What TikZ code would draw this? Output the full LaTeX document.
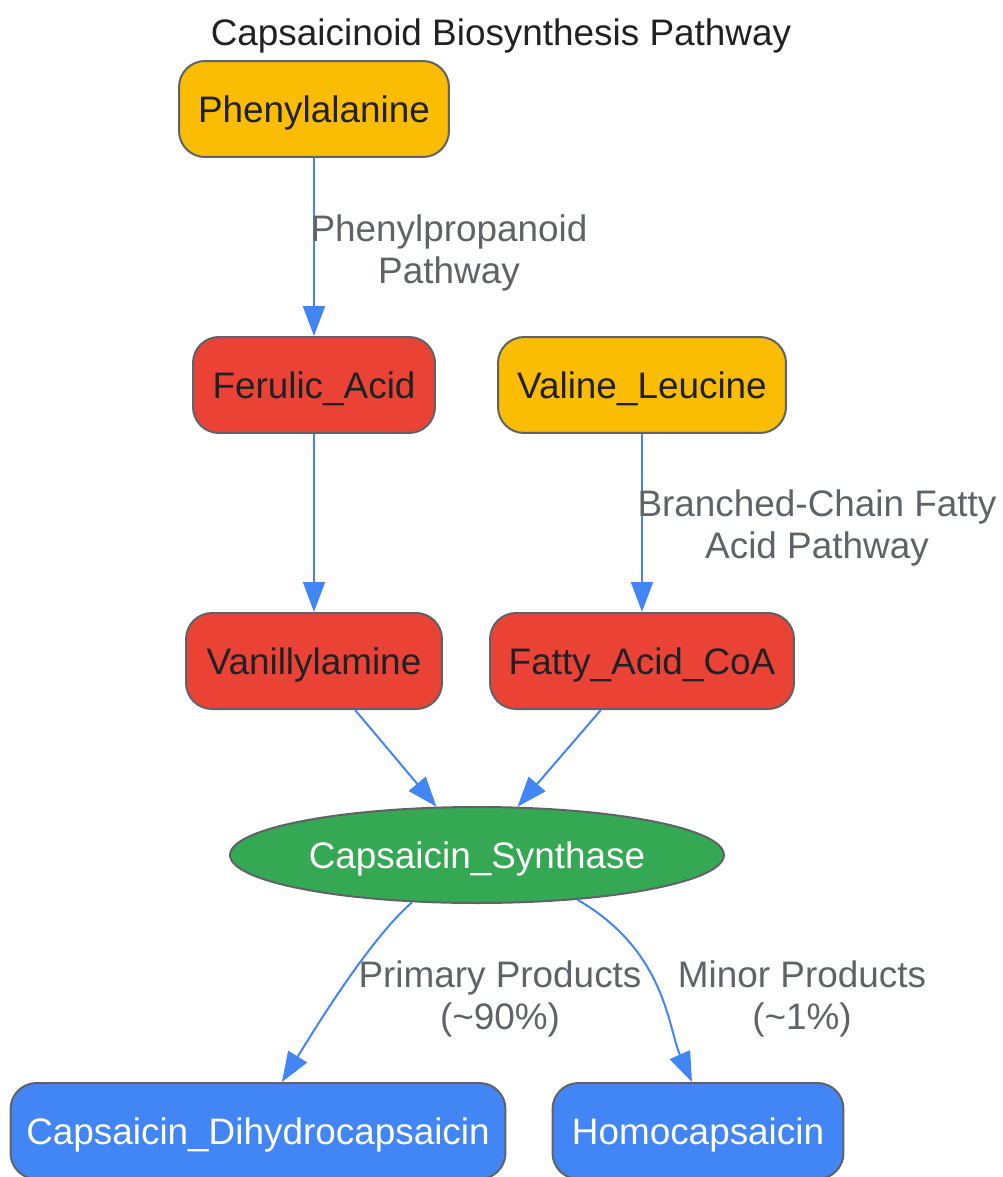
\documentclass[tikz,border=0pt]{standalone}
\usepackage{fontspec}
\setmainfont{Liberation Sans}
\usetikzlibrary{arrows.meta,shapes.geometric}
\definecolor{pathyellow}{HTML}{FBBC04}
\definecolor{pathred}{HTML}{EA4335}
\definecolor{pathgreen}{HTML}{34A853}
\definecolor{pathblue}{HTML}{4285F4}
\definecolor{nodeborder}{HTML}{5F6368}
\definecolor{nodetext}{HTML}{202124}
\definecolor{labelgray}{HTML}{5F6368}
\begin{document}
\begin{tikzpicture}[x=0.02cm,y=-0.02cm,
    txt/.style={font=\fontsize{21}{23.5}\selectfont},
    box/.style={txt, draw=nodeborder, line width=0.04cm, rounded corners=0.52cm,
        minimum height=1.92cm, inner sep=0pt, text=nodetext, text height=15.5pt, text depth=0pt},
    lbl/.style={txt, text=labelgray, align=center, inner sep=0pt},
    edge/.style={draw=pathblue, line width=0.04cm, -{Triangle[length=0.6cm,width=0.44cm]}}]
                            \useasboundingbox (0,0) rectangle (1002,1177);

                            % Drawing title
                            \node[txt, text=nodetext] (title) at (501,36) {Capsaicinoid Biosynthesis Pathway};%

                            % Drawing node Phenylalanine
                            \node[box, fill=pathyellow, minimum width=5.4cm] (phe) at (314,109) {Phenylalanine};%

                            % Drawing node Ferulic_Acid
                            \node[box, fill=pathred, minimum width=4.84cm] (fer) at (314,385) {Ferulic\_Acid};%

                            % Drawing node Valine_Leucine
                            \node[box, fill=pathyellow, minimum width=5.76cm] (val) at (642,385) {Valine\_Leucine};%

                            % Drawing node Vanillylamine
                            \node[box, fill=pathred, minimum width=5.12cm] (van) at (314,661) {Vanillylamine};%

                            % Drawing node Fatty_Acid_CoA
                            \node[box, fill=pathred, minimum width=6.08cm] (fat) at (642,661) {Fatty\_Acid\_CoA};%

                            % Drawing node Capsaicin_Synthase
                            \node[box, ellipse, fill=pathgreen, text=white, minimum width=9.88cm] (syn) at (477,855) {Capsaicin\_Synthase};%

                            % Drawing node Capsaicin_Dihydrocapsaicin
                            \node[box, fill=pathblue, text=white, minimum width=9.9cm] (cd) at (258,1131) {Capsaicin\_Dihydrocapsaicin};%

                            % Drawing node Homocapsaicin
                            \node[box, fill=pathblue, text=white, minimum width=5.82cm] (homo) at (698,1131) {Homocapsaicin};%

                            % Drawing edges
                            \draw[edge] (phe) -- (fer);%
                            \draw[edge] (fer) -- (van);%
                            \draw[edge] (val) -- (fat);%
                            \draw[edge] (van.310) -- (syn.130);%
                            \draw[edge] (fat.230) -- (syn.50);%
                            \draw[edge] (syn.216) .. controls (368,941) and (313,1032) .. (cd.64);%
                            \draw[edge] (syn.336) .. controls (666,951) and (668,1028) .. (homo.97);%

                            % Marking edge labels
                            \node[lbl] (lblphe) at (449,253) {Phenylpropanoid\\Pathway};%
                            \node[lbl] (lblval) at (817,528) {Branched-Chain Fatty\\Acid Pathway};%
                            \node[lbl] (lblcd) at (500,999) {Primary Products\\(\textasciitilde 90\%)};%
                            \node[lbl] (lblhomo) at (802,999) {Minor Products\\(\textasciitilde 1\%)};%
\end{tikzpicture}
\end{document}
